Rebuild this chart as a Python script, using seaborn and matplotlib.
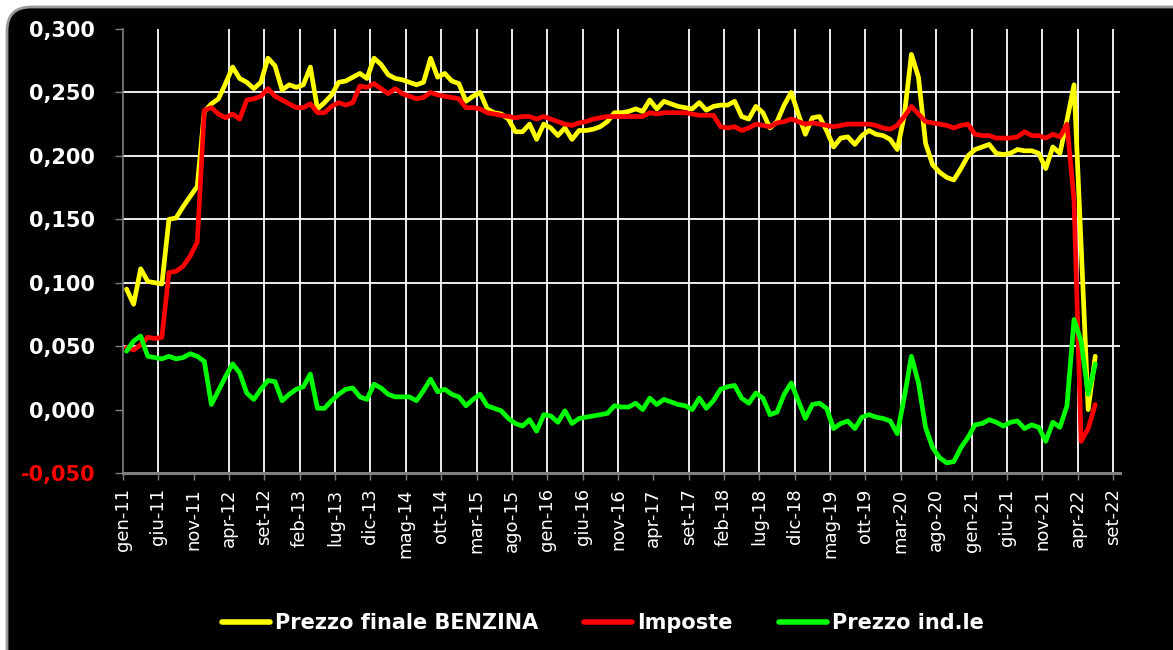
import numpy as np
import pandas as pd
import matplotlib
matplotlib.use("Agg")
import matplotlib.pyplot as plt
import seaborn as sns
from matplotlib.patches import FancyBboxPatch
from matplotlib.transforms import IdentityTransform
from matplotlib.lines import Line2D

# dati mensili gen-11 .. giu-22 (euro/litro)
prezzo_finale = [
    0.095, 0.083, 0.111, 0.101, 0.100, 0.099, 0.150, 0.151, 0.160, 0.168,
    0.176, 0.235, 0.241, 0.245, 0.257, 0.270, 0.261, 0.258, 0.253, 0.258,
    0.277, 0.271, 0.252, 0.256, 0.254, 0.256, 0.270, 0.237, 0.242, 0.248,
    0.258, 0.259, 0.262, 0.265, 0.261, 0.277, 0.272, 0.264, 0.261, 0.260,
    0.258, 0.256, 0.258, 0.277, 0.262, 0.265, 0.259, 0.257, 0.243, 0.247,
    0.250, 0.237, 0.234, 0.233, 0.229, 0.219, 0.219, 0.225, 0.213, 0.225,
    0.222, 0.216, 0.222, 0.213, 0.220, 0.220, 0.221, 0.223, 0.227, 0.234,
    0.234, 0.235, 0.237, 0.235, 0.244, 0.237, 0.243, 0.241, 0.239, 0.238,
    0.237, 0.242, 0.236, 0.239, 0.240, 0.240, 0.243, 0.231, 0.229, 0.239,
    0.234, 0.222, 0.227, 0.240, 0.250, 0.233, 0.217, 0.230, 0.231, 0.220,
    0.207, 0.214, 0.215, 0.209, 0.216, 0.220, 0.217, 0.216, 0.213, 0.205,
    0.232, 0.280, 0.262, 0.210, 0.193, 0.187, 0.183, 0.181, 0.190, 0.200,
    0.205, 0.207, 0.209, 0.202, 0.201, 0.202, 0.205, 0.204, 0.204, 0.202,
    0.190, 0.207, 0.202, 0.228, 0.256, 0.130, 0.000, 0.042,
]
imposte = [
    0.049, 0.047, 0.051, 0.057, 0.056, 0.057, 0.108, 0.109, 0.113, 0.121,
    0.132, 0.236, 0.238, 0.233, 0.230, 0.233, 0.229, 0.244, 0.245, 0.247,
    0.253, 0.247, 0.244, 0.241, 0.238, 0.238, 0.241, 0.234, 0.234, 0.239,
    0.242, 0.240, 0.242, 0.255, 0.254, 0.257, 0.253, 0.249, 0.253, 0.249,
    0.247, 0.245, 0.246, 0.250, 0.248, 0.247, 0.246, 0.245, 0.238, 0.238,
    0.237, 0.234, 0.233, 0.232, 0.231, 0.230, 0.231, 0.231, 0.229, 0.231,
    0.229, 0.227, 0.225, 0.224, 0.226, 0.227, 0.229, 0.230, 0.231, 0.231,
    0.231, 0.231, 0.231, 0.231, 0.234, 0.233, 0.234, 0.234, 0.234, 0.234,
    0.233, 0.232, 0.232, 0.232, 0.223, 0.222, 0.223, 0.220, 0.222, 0.225,
    0.224, 0.223, 0.226, 0.227, 0.229, 0.227, 0.225, 0.226, 0.225, 0.224,
    0.223, 0.224, 0.225, 0.225, 0.225, 0.225, 0.224, 0.222, 0.221, 0.224,
    0.231, 0.239, 0.233, 0.227, 0.226, 0.225, 0.224, 0.222, 0.224, 0.225,
    0.217, 0.216, 0.216, 0.214, 0.214, 0.214, 0.215, 0.219, 0.216, 0.216,
    0.214, 0.217, 0.215, 0.225, 0.165, -0.025, -0.015, 0.004,
]
prezzo_industriale = [
    0.046, 0.054, 0.058, 0.042, 0.041, 0.040, 0.042, 0.040, 0.041, 0.044,
    0.042, 0.038, 0.004, 0.015, 0.026, 0.036, 0.029, 0.013, 0.008, 0.016,
    0.023, 0.022, 0.007, 0.012, 0.016, 0.018, 0.028, 0.001, 0.001, 0.007,
    0.012, 0.016, 0.017, 0.010, 0.008, 0.020, 0.017, 0.012, 0.010, 0.010,
    0.010, 0.007, 0.015, 0.024, 0.014, 0.016, 0.012, 0.010, 0.003, 0.008,
    0.012, 0.003, 0.001, -0.001, -0.007, -0.011, -0.013, -0.008, -0.017, -0.004,
    -0.005, -0.010, -0.001, -0.011, -0.007, -0.006, -0.005, -0.004, -0.003, 0.003,
    0.002, 0.002, 0.005, 0.000, 0.009, 0.004, 0.008, 0.006, 0.004, 0.003,
    0.000, 0.009, 0.001, 0.007, 0.016, 0.018, 0.019, 0.009, 0.005, 0.013,
    0.009, -0.004, -0.002, 0.012, 0.021, 0.007, -0.007, 0.004, 0.005, 0.001,
    -0.015, -0.011, -0.009, -0.015, -0.006, -0.004, -0.006, -0.007, -0.009, -0.019,
    0.010, 0.042, 0.021, -0.014, -0.030, -0.038, -0.042, -0.041, -0.030, -0.022,
    -0.012, -0.011, -0.008, -0.010, -0.013, -0.010, -0.009, -0.015, -0.012, -0.014,
    -0.025, -0.010, -0.014, 0.003, 0.071, 0.054, 0.012, 0.036,
]

etichette_mesi = [
    "gen-11", "giu-11", "nov-11", "apr-12", "set-12", "feb-13", "lug-13",
    "dic-13", "mag-14", "ott-14", "mar-15", "ago-15", "gen-16", "giu-16",
    "nov-16", "apr-17", "set-17", "feb-18", "lug-18", "dic-18", "mag-19",
    "ott-19", "mar-20", "ago-20", "gen-21", "giu-21", "nov-21", "apr-22",
    "set-22",
]
serie = ["Prezzo finale BENZINA", "Imposte", "Prezzo ind.le"]
colori = ["#ffff00", "#ff0000", "#00ff00"]

# punti al centro della categoria mensile (come Excel)
df = pd.DataFrame({
    "mese": np.arange(len(prezzo_finale)) + 0.5,
    serie[0]: prezzo_finale,
    serie[1]: imposte,
    serie[2]: prezzo_industriale,
})
long = df.melt(id_vars="mese", var_name="serie", value_name="valore")

xlim = (0, 141)
ylim = (-0.05, 0.30)
tick_x = np.arange(len(etichette_mesi)) * 5
yt = [-0.05, 0.0, 0.05, 0.10, 0.15, 0.20, 0.25, 0.30]

# segmenti della griglia ricavati dai tick (niente linee su 0, nov-11, apr-17)
righe = []
k = 0
for i, x in enumerate(tick_x):
    if i in (0, 2, 15):
        continue
    righe += [(k, x, ylim[0]), (k, x, ylim[1])]
    k += 1
for y in yt[2:-1]:
    righe += [(k, xlim[0], y), (k, xlim[1], y)]
    k += 1
griglia = pd.DataFrame(righe, columns=["id", "x", "y"])

sns.set_style("dark")
plt.rcParams["font.family"] = ["DejaVu Sans"]

fig = plt.figure(figsize=(11.73, 6.5), dpi=100, facecolor="white")

ax = fig.add_axes([123 / 1173, 1 - 473 / 650, (1120 - 123) / 1173, (473 - 29) / 650])
ax.set_facecolor("black")

sns.lineplot(data=griglia, x="x", y="y", units="id", estimator=None, sort=False,
             color="#ffffff", linewidth=1.3, ax=ax, legend=False, zorder=2)

sns.lineplot(data=long, x="mese", y="valore", hue="serie", hue_order=serie,
             palette=colori, linewidth=3.4, ax=ax, legend=False,
             errorbar=None, zorder=10)

ax.set_xlim(*xlim)
ax.set_ylim(*ylim)
ax.set_xticks(tick_x)
ax.set_xticklabels(etichette_mesi, rotation=90, color="white", fontsize=13)
ax.set_yticks(yt)
ax.set_yticklabels([f"{v:.3f}".replace(".", ",") for v in yt],
                   color="white", fontsize=15, fontweight="bold")
ax.get_yticklabels()[0].set_color("#ff0000")

ax.tick_params(axis="y", length=6, width=1, color="#808080", pad=14, left=True)
ax.tick_params(axis="x", length=5, width=1, color="#808080", pad=6, bottom=True)
ax.grid(False)

for s in ["top", "right"]:
    ax.spines[s].set_visible(False)
ax.spines["left"].set_color("#808080")
ax.spines["left"].set_linewidth(1.2)
ax.spines["bottom"].set_color("#808080")
ax.spines["bottom"].set_linewidth(2.2)
ax.set_xlabel("")
ax.set_ylabel("")

maniglie = [Line2D([0], [0], color=c, linewidth=4) for c in colori]
leg = fig.legend(maniglie, serie, loc="center", bbox_to_anchor=(0.514, 0.0415),
                 ncol=3, frameon=False, handlelength=2.3, handletextpad=0.25,
                 columnspacing=2.2, prop={"size": 15, "weight": "bold"})
for t in leg.get_texts():
    t.set_color("white")

# cornice nera arrotondata (dietro a tutto)
cornice = FancyBboxPatch((7, -40), 1220, 683, boxstyle="round,pad=0,rounding_size=24",
                         facecolor="black", edgecolor="#9a9a9a", linewidth=2,
                         transform=IdentityTransform(), zorder=-5)
fig.patches.append(cornice)
cornice.set_figure(fig)

fig.savefig("out.png", dpi=100, facecolor="white")
